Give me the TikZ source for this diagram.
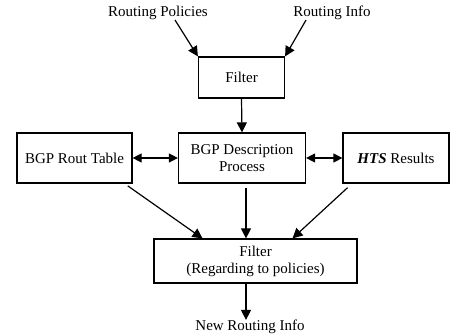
\documentclass[tikz,border=0pt]{standalone}
\usepackage{fontspec}
\setmainfont{Liberation Serif}
\usetikzlibrary{arrows.meta}
\newlength{\du}
\setlength{\du}{1pt}
\tikzset{
  box/.style={draw, line width=1.2\du, inner sep=0pt, align=center},
  lbl/.style={inner sep=0pt, align=center},
  arr/.style={line width=1.2\du, -{Triangle[length=10pt,width=10pt]}},
  dblarr/.style={line width=1.2\du, {Triangle[length=9pt,width=9pt]}-{Triangle[length=9pt,width=9pt]}}
}
\begin{document}
\begin{tikzpicture}[font=\fontsize{15}{17}\selectfont]
\pgftransformxscale{1.000000}
\pgftransformyscale{-1.000000}
\definecolor{dialinecolor}{rgb}{0.000000, 0.000000, 0.000000}
\useasboundingbox (0\du,0\du) rectangle (451\du,336\du);
% setfont left to latex
\node[lbl] (policies) at (158\du,13\du){Routing Policies};
\node[lbl] (info) at (332\du,13\du){Routing Info};
\node[box, minimum width=86\du, minimum height=41\du] (filterA) at (241.5\du,77.5\du){Filter};
\node[box, minimum width=115\du, minimum height=50\du] (routtable) at (74.5\du,158\du){BGP Rout Table};
\node[box, minimum width=127\du, minimum height=50\du] (description) at (242\du,158\du){BGP Description\\Process};
\node[box, minimum width=106\du, minimum height=50\du] (hts) at (396\du,158\du){\textbf{\textit{HTS}} Results};
\node[box, minimum width=203\du, minimum height=44\du] (filterB) at (255.5\du,261\du){Filter\\(Regarding to policies)};
\node[lbl] (newinfo) at (250\du,327\du){New Routing Info};
% connectors
\draw[arr] ([xshift=17\du]policies.south) -- (filterA.north west);
\draw[arr] ([xshift=-26\du]info.south) -- (filterA.north east);
\draw[arr] (filterA.south) -- (description.north);
\draw[dblarr] (routtable.east) -- (description.west);
\draw[dblarr] (description.east) -- (hts.west);
\draw[arr, shorten <=4\du] ([xshift=50\du]routtable.south) -- ([xshift=-53\du]filterB.north);
\draw[arr, shorten <=4\du] ([xshift=4\du]description.south) -- ([xshift=4\du]description.south |- filterB.north);
\draw[arr, shorten <=6\du] ([xshift=-44\du]hts.south) -- ([xshift=37\du]filterB.north);
\draw[arr] ([xshift=4\du]description.south |- filterB.south) -- ([xshift=4\du]description.south |- newinfo.north);
\end{tikzpicture}
\end{document}
